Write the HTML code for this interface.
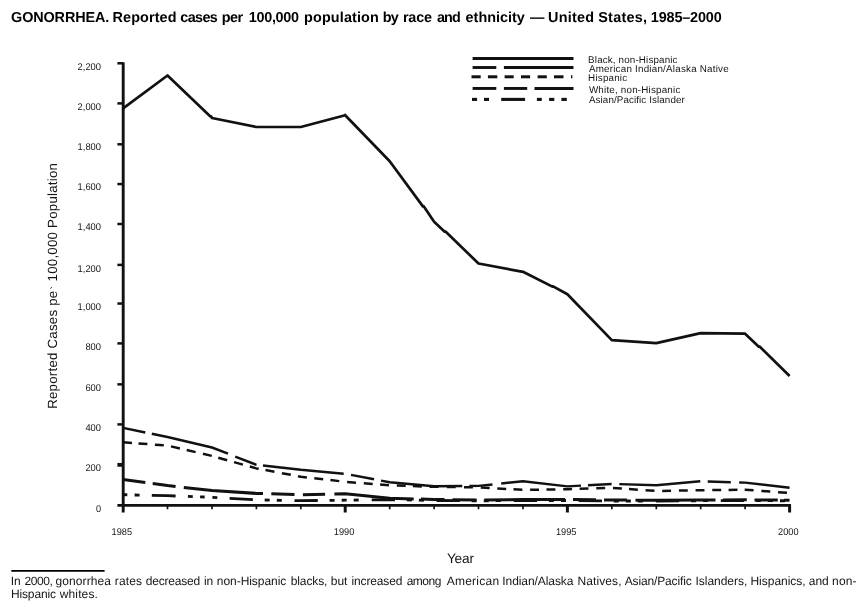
<!DOCTYPE html>
<html><head><meta charset="utf-8"><title>Gonorrhea</title>
<style>
html,body{margin:0;padding:0;background:#fff;}
body{width:863px;height:611px;overflow:hidden;position:relative;font-family:"Liberation Sans",sans-serif;color:#111;}
svg{position:absolute;left:0;top:0;will-change:transform;}
text{font-family:"Liberation Sans",sans-serif;fill:#151515;text-rendering:geometricPrecision;}
.ln{fill:none;stroke:#111;stroke-width:2.7;stroke-linejoin:round;stroke-linecap:butt;}
.tt{fill:#000;}
</style></head><body>
<svg width="863" height="611" viewBox="0 0 863 611">

<text x="11.12" y="21.8" font-size="14.4" font-weight="bold" style="letter-spacing:-0.117px" class="tt">GONORRHEA.</text>
<text x="112.56" y="21.8" font-size="14.4" font-weight="bold" style="letter-spacing:0.111px" class="tt">Reported</text>
<text x="180.30" y="21.8" font-size="14.4" font-weight="bold" style="letter-spacing:-0.630px" class="tt">cases</text>
<text x="221.66" y="21.8" font-size="14.4" font-weight="bold" style="letter-spacing:-0.534px" class="tt">per</text>
<text x="248.84" y="21.8" font-size="14.4" font-weight="bold" style="letter-spacing:-0.311px" class="tt">100,000</text>
<text x="304.06" y="21.8" font-size="14.4" font-weight="bold" style="letter-spacing:0.137px" class="tt">population</text>
<text x="382.76" y="21.8" font-size="14.4" font-weight="bold" style="letter-spacing:-0.852px" class="tt">by</text>
<text x="402.96" y="21.8" font-size="14.4" font-weight="bold" style="letter-spacing:-0.182px" class="tt">race</text>
<text x="436.94" y="21.8" font-size="14.4" font-weight="bold" style="letter-spacing:-0.896px" class="tt">and</text>
<text x="465.60" y="21.8" font-size="14.4" font-weight="bold" style="letter-spacing:0.014px" class="tt">ethnicity</text>
<text x="530.10" y="21.8" font-size="14.4" font-weight="bold" style="letter-spacing:0.000px" class="tt">—</text>
<text x="548.04" y="21.8" font-size="14.4" font-weight="bold" style="letter-spacing:0.243px" class="tt">United</text>
<text x="598.24" y="21.8" font-size="14.4" font-weight="bold" style="letter-spacing:0.257px" class="tt">States,</text>
<text x="650.84" y="21.8" font-size="14.4" font-weight="bold" style="letter-spacing:-0.149px" class="tt">1985–2000</text>
<line x1="123.2" y1="62.199999999999996" x2="123.2" y2="512.5" stroke="#111" stroke-width="2.9"/>
<line x1="117.4" y1="505.4" x2="791" y2="505.4" stroke="#111" stroke-width="2.9"/>
<line x1="117.4" y1="63.30" x2="123" y2="63.30" stroke="#111" stroke-width="2.5"/>
<line x1="117.4" y1="103.40" x2="123" y2="103.40" stroke="#111" stroke-width="2.5"/>
<line x1="117.4" y1="144.30" x2="123" y2="144.30" stroke="#111" stroke-width="2.5"/>
<line x1="117.4" y1="184.05" x2="123" y2="184.05" stroke="#111" stroke-width="2.5"/>
<line x1="117.4" y1="224.00" x2="123" y2="224.00" stroke="#111" stroke-width="2.5"/>
<line x1="117.4" y1="264.90" x2="123" y2="264.90" stroke="#111" stroke-width="2.5"/>
<line x1="117.4" y1="303.55" x2="123" y2="303.55" stroke="#111" stroke-width="2.5"/>
<line x1="117.4" y1="343.40" x2="123" y2="343.40" stroke="#111" stroke-width="2.5"/>
<line x1="117.4" y1="384.35" x2="123" y2="384.35" stroke="#111" stroke-width="2.5"/>
<line x1="117.4" y1="424.40" x2="123" y2="424.40" stroke="#111" stroke-width="2.5"/>
<line x1="117.4" y1="464.85" x2="123" y2="464.85" stroke="#111" stroke-width="3.8"/>
<line x1="167.5" y1="505.4" x2="167.5" y2="509.3" stroke="#111" stroke-width="1.7"/>
<line x1="212.0" y1="505.4" x2="212.0" y2="509.3" stroke="#111" stroke-width="1.7"/>
<line x1="256.4" y1="505.4" x2="256.4" y2="509.3" stroke="#111" stroke-width="1.7"/>
<line x1="300.8" y1="505.4" x2="300.8" y2="509.3" stroke="#111" stroke-width="1.7"/>
<line x1="345.2" y1="505.4" x2="345.2" y2="512.5" stroke="#111" stroke-width="3"/>
<line x1="389.7" y1="505.4" x2="389.7" y2="509.3" stroke="#111" stroke-width="1.7"/>
<line x1="434.1" y1="505.4" x2="434.1" y2="509.3" stroke="#111" stroke-width="1.7"/>
<line x1="478.5" y1="505.4" x2="478.5" y2="509.3" stroke="#111" stroke-width="1.7"/>
<line x1="523.0" y1="505.4" x2="523.0" y2="509.3" stroke="#111" stroke-width="1.7"/>
<line x1="567.4" y1="505.4" x2="567.4" y2="512.5" stroke="#111" stroke-width="3"/>
<line x1="611.8" y1="505.4" x2="611.8" y2="509.3" stroke="#111" stroke-width="1.7"/>
<line x1="656.3" y1="505.4" x2="656.3" y2="509.3" stroke="#111" stroke-width="1.7"/>
<line x1="700.7" y1="505.4" x2="700.7" y2="509.3" stroke="#111" stroke-width="1.7"/>
<line x1="745.1" y1="505.4" x2="745.1" y2="509.3" stroke="#111" stroke-width="1.7"/>
<line x1="789.6" y1="505.4" x2="789.6" y2="512.5" stroke="#111" stroke-width="3"/>
<text x="77.6" y="69.7" font-size="9.8" textLength="23.4" lengthAdjust="spacingAndGlyphs">2,200</text>
<text x="77.6" y="109.7" font-size="9.8" textLength="23.4" lengthAdjust="spacingAndGlyphs">2,000</text>
<text x="77.6" y="150.4" font-size="9.8" textLength="23.4" lengthAdjust="spacingAndGlyphs">1,800</text>
<text x="77.6" y="189.7" font-size="9.8" textLength="23.4" lengthAdjust="spacingAndGlyphs">1,600</text>
<text x="77.6" y="230.2" font-size="9.8" textLength="23.4" lengthAdjust="spacingAndGlyphs">1,400</text>
<text x="77.6" y="271.5" font-size="9.8" textLength="23.4" lengthAdjust="spacingAndGlyphs">1,200</text>
<text x="77.6" y="309.7" font-size="9.8" textLength="23.4" lengthAdjust="spacingAndGlyphs">1,000</text>
<text x="85.4" y="350.4" font-size="9.8" textLength="15.6" lengthAdjust="spacingAndGlyphs">800</text>
<text x="85.4" y="391.0" font-size="9.8" textLength="15.6" lengthAdjust="spacingAndGlyphs">600</text>
<text x="85.4" y="430.8" font-size="9.8" textLength="15.6" lengthAdjust="spacingAndGlyphs">400</text>
<text x="85.4" y="471.4" font-size="9.8" textLength="15.6" lengthAdjust="spacingAndGlyphs">200</text>
<text x="95.9" y="511.7" font-size="9.8" textLength="5.1" lengthAdjust="spacingAndGlyphs">0</text>
<text x="111.6" y="535.3" font-size="9.8" textLength="20.5" lengthAdjust="spacingAndGlyphs">1985</text>
<text x="333.8" y="535.3" font-size="9.8" textLength="20.5" lengthAdjust="spacingAndGlyphs">1990</text>
<text x="555.9" y="535.3" font-size="9.8" textLength="20.5" lengthAdjust="spacingAndGlyphs">1995</text>
<text x="778.1" y="535.3" font-size="9.8" textLength="20.5" lengthAdjust="spacingAndGlyphs">2000</text>
<text x="446.93" y="562.6" font-size="13.7" style="letter-spacing:-0.210px" >Year</text>
<text transform="translate(56.8,408.8) rotate(-90)" font-size="13.3" textLength="118.0" lengthAdjust="spacing">Reported Cases pe</text>
<text transform="translate(56.8,281.4) rotate(-90)" font-size="13.3" textLength="118.3" lengthAdjust="spacing">100,000 Population</text>
<line x1="50.3" y1="288.6" x2="52.0" y2="287.0" stroke="#333" stroke-width="1.0"/>
<polyline class="ln" points="123.1,108.3 167.5,75.5 210.4,116.5 211.0,116.3 212.0,118.0 256.4,127.0 300.8,127.0 345.2,115.2 389.7,161.2 422.9,206.4 423.7,206.2 434.1,221.7 444.7,231.7 445.5,231.5 478.5,263.5 523.0,271.8 552.4,286.6 553.1,286.4 567.4,294.2 611.8,340.1 656.3,343.1 700.7,333.1 745.1,333.7 758.8,346.7 759.6,346.5 789.6,376.0"/>
<line x1="345.1" y1="113.6" x2="345.1" y2="115.6" stroke="#222" stroke-width="1.2"/>
<polyline class="ln" points="123.1,427.9 167.5,437.0 212.0,447.5 256.4,464.8 300.8,469.8 345.2,473.8 389.7,482.3 434.1,486.2 478.5,485.9 523.0,481.2 567.4,486.4 611.8,483.9 656.3,485.2 700.7,481.3 745.1,482.6 789.6,487.8" stroke-dasharray="22.66 6.63 78.92 7.73 22.85 6.54 81.11 7.41 23.52 7.03 81.63 7.00 23.28 8.75 80.25 7.01 23.64 7.70 81.19 7.40 23.11 8.40 50.66 50.00" style="stroke-width:2.45"/>
<polyline class="ln" points="123.1,442.3 167.5,445.6 212.0,455.9 256.4,468.4 300.8,476.7 345.2,481.8 389.7,485.3 434.1,486.8 478.5,487.3 523.0,489.9 567.4,489.2 611.8,487.8 656.3,491.0 700.7,490.2 745.1,489.7 789.6,493.0" stroke-dasharray="8.92 6.52 8.92 7.52 8.92 7.30 9.14 6.98 9.14 7.49 9.14 6.75 9.25 7.06 9.25 7.17 9.20 6.92 9.05 7.63 9.05 7.32 8.99 7.45 8.96 7.25 8.96 7.84 8.93 7.82 8.93 7.42 8.93 7.81 8.91 7.20 8.91 7.80 8.90 8.30 8.90 8.30 8.90 7.90 8.92 7.61 8.92 7.31 8.92 7.70 8.90 7.50 8.90 7.80 8.90 7.50 8.90 7.80 8.90 7.81 8.92 7.12 8.92 7.72 8.92 7.71 8.90 7.80 8.90 7.80 8.90 7.80 8.90 7.40 8.90 7.20 8.92 7.82 8.92 7.82 8.92 50.00" style="stroke-width:2.5"/>
<polyline class="ln" points="123.1,479.5 167.5,485.6 212.0,490.6 256.4,493.4 300.8,494.8 345.2,493.7 389.7,498.2 434.1,499.5 478.5,500.0 523.0,499.5 567.4,499.5 611.8,500.0 656.3,500.3 700.7,500.0 745.1,499.8 789.6,500.2" stroke-dasharray="22.41 7.47 23.09 8.25 79.47 8.30 23.21 8.40 22.21 9.30 79.54 7.30 23.51 8.00 24.00 8.00 80.50 8.00 23.00 8.00 23.00 8.50 80.00 7.50 23.80 7.70 23.30 6.20 5.55 50.00" style="stroke-width:3"/>
<polyline class="ln" points="123.1,494.7 167.5,495.7 212.0,497.3 256.4,499.9 300.8,500.7 345.2,500.2 389.7,499.6 434.1,500.5 478.5,500.8 523.0,500.5 567.4,500.5 611.8,501.0 656.3,501.0 700.7,500.7 745.1,500.5 789.6,500.8" stroke-dasharray="4.20 7.30 5.00 12.20 23.81 12.31 4.90 7.30 4.60 7.71 4.91 12.32 23.34 11.81 5.00 7.10 5.00 12.70 23.30 11.80 5.00 7.10 5.00 7.00 5.00 13.00 23.30 11.80 5.00 7.10 5.00 12.70 23.30 11.80 5.00 7.10 5.00 7.00 5.00 13.00 23.30 11.80 5.00 7.10 5.00 12.70 23.30 11.80 5.00 7.10 5.00 7.00 5.00 13.00 23.30 11.80 5.00 7.10 5.00 12.70 23.30 11.80 5.00 7.10 5.00 7.00 5.00 50.00" style="stroke-width:2.85"/>
<line x1="472.6" y1="58.5" x2="573.5" y2="58.5" stroke="#111" stroke-width="2.9"/>
<line x1="472.6" y1="67.5" x2="496.3" y2="67.5" stroke="#111" stroke-width="2.9"/><line x1="503.9" y1="67.5" x2="573.5" y2="67.5" stroke="#111" stroke-width="2.9"/>
<line x1="471.5" y1="76.8" x2="480.7" y2="76.8" stroke="#111" stroke-width="3.0"/><line x1="487.9" y1="76.8" x2="497.3" y2="76.8" stroke="#111" stroke-width="3.0"/><line x1="504.6" y1="76.8" x2="513.7" y2="76.8" stroke="#111" stroke-width="3.0"/><line x1="521" y1="76.8" x2="530.1" y2="76.8" stroke="#111" stroke-width="3.0"/><line x1="537.6" y1="76.8" x2="546.8" y2="76.8" stroke="#111" stroke-width="3.0"/><line x1="554" y1="76.8" x2="563.5" y2="76.8" stroke="#111" stroke-width="3.0"/><line x1="571" y1="76.8" x2="572.4" y2="76.8" stroke="#111" stroke-width="3.0"/>
<line x1="472.6" y1="88.45" x2="496.3" y2="88.45" stroke="#111" stroke-width="2.9"/><line x1="503.9" y1="88.45" x2="527.2" y2="88.45" stroke="#111" stroke-width="2.9"/><line x1="534.5" y1="88.45" x2="573.5" y2="88.45" stroke="#111" stroke-width="2.9"/>
<line x1="472" y1="99.4" x2="477.1" y2="99.4" stroke="#111" stroke-width="3.1"/><line x1="484" y1="99.4" x2="489" y2="99.4" stroke="#111" stroke-width="3.1"/><line x1="501.2" y1="99.4" x2="525.1" y2="99.4" stroke="#111" stroke-width="3.1"/><line x1="536.9" y1="99.4" x2="541.8" y2="99.4" stroke="#111" stroke-width="3.1"/><line x1="549.1" y1="99.4" x2="554.3" y2="99.4" stroke="#111" stroke-width="3.1"/><line x1="561.4" y1="99.4" x2="566.8" y2="99.4" stroke="#111" stroke-width="3.1"/>
<text x="588.12" y="62.6" font-size="9.8" style="letter-spacing:0.157px" >Black, non-Hispanic</text>
<text x="588.90" y="71.7" font-size="9.8" style="letter-spacing:0.227px" >American Indian/Alaska Native</text>
<text x="588.12" y="81.0" font-size="9.8" style="letter-spacing:0.207px" >Hispanic</text>
<text x="588.90" y="92.6" font-size="9.8" style="letter-spacing:0.208px" >White, non-Hispanic</text>
<text x="588.90" y="103.4" font-size="9.8" style="letter-spacing:0.107px" >Asian/Pacific Islander</text>
<line x1="11.3" y1="570.8" x2="104.6" y2="570.8" stroke="#000" stroke-width="1.7"/>
<text x="10.82" y="585.1" font-size="12.0" style="letter-spacing:-0.094px" >In</text>
<text x="24.60" y="585.1" font-size="12.0" style="letter-spacing:-0.419px" >2000,</text>
<text x="55.62" y="585.1" font-size="12.0" style="letter-spacing:0.078px" >gonorrhea</text>
<text x="114.82" y="585.1" font-size="12.0" style="letter-spacing:0.131px" >rates</text>
<text x="145.82" y="585.1" font-size="12.0" style="letter-spacing:-0.216px" >decreased</text>
<text x="203.92" y="585.1" font-size="12.0" style="letter-spacing:-0.126px" >in</text>
<text x="216.82" y="585.1" font-size="12.0" style="letter-spacing:-0.051px" >non-Hispanic</text>
<text x="290.78" y="585.1" font-size="12.0" style="letter-spacing:-0.129px" >blacks,</text>
<text x="330.78" y="585.1" font-size="12.0" style="letter-spacing:-0.014px" >but</text>
<text x="351.62" y="585.1" font-size="12.0" style="letter-spacing:-0.165px" >increased</text>
<text x="406.72" y="585.1" font-size="12.0" style="letter-spacing:-0.519px" >among</text>
<text x="446.70" y="585.1" font-size="12.0" style="letter-spacing:0.250px" >American</text>
<text x="502.32" y="585.1" font-size="12.0" style="letter-spacing:-0.076px" >Indian/Alaska</text>
<text x="577.44" y="585.1" font-size="12.0" style="letter-spacing:0.109px" >Natives,</text>
<text x="624.70" y="585.1" font-size="12.0" style="letter-spacing:-0.141px" >Asian/Pacific</text>
<text x="695.52" y="585.1" font-size="12.0" style="letter-spacing:-0.032px" >Islanders,</text>
<text x="750.44" y="585.1" font-size="12.0" style="letter-spacing:-0.016px" >Hispanics,</text>
<text x="808.72" y="585.1" font-size="12.0" style="letter-spacing:-0.004px" >and</text>
<text x="832.02" y="585.1" font-size="12.0" style="letter-spacing:0.193px" >non-</text>
<text x="10.94" y="597.6" font-size="12.0" style="letter-spacing:-0.137px" >Hispanic</text>
<text x="59.76" y="597.6" font-size="12.0" style="letter-spacing:0.124px" >whites.</text>
</svg></body></html>
